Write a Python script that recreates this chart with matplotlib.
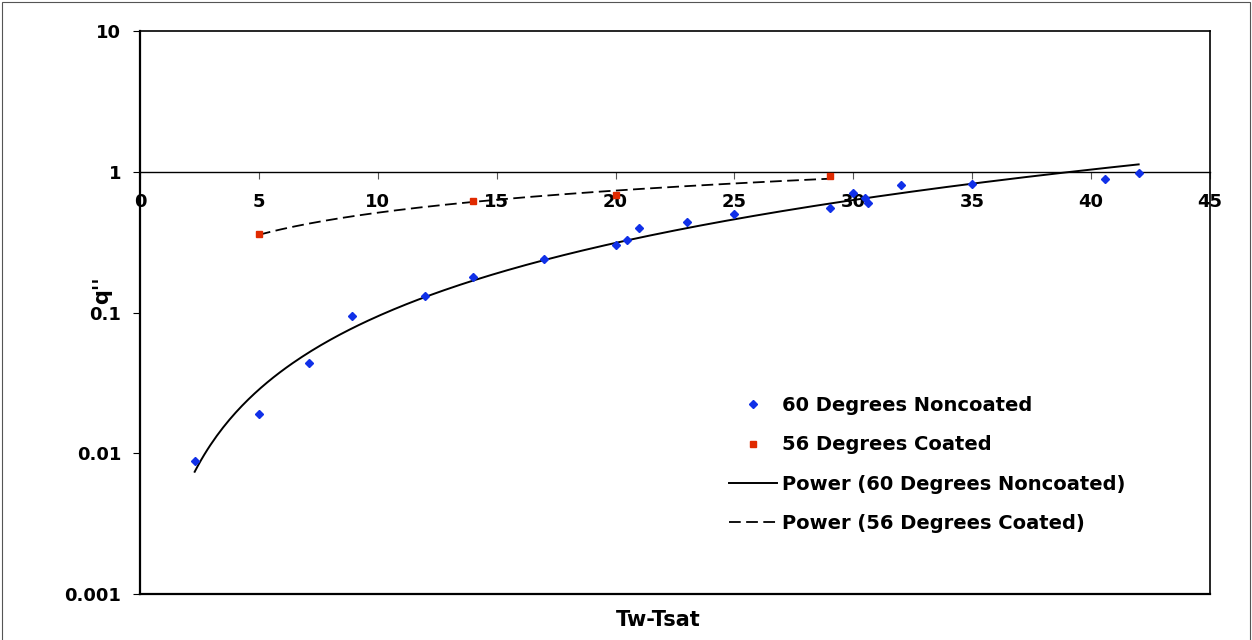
import numpy as np
import matplotlib
matplotlib.use("Agg")
import matplotlib.pyplot as plt
from matplotlib.patches import Rectangle

# ---- data ----
x_noncoated = [2.3, 5.0, 7.1, 8.9, 12.0, 14.0, 17.0, 20.0, 20.5, 21.0, 23.0, 25.0,
               29.0, 30.0, 30.5, 30.6, 32.0, 35.0, 40.6, 42.0]
y_noncoated = [0.0088, 0.019, 0.044, 0.095, 0.13, 0.18, 0.24, 0.30, 0.33, 0.40, 0.44, 0.50,
               0.55, 0.71, 0.65, 0.60, 0.80, 0.82, 0.89, 0.98]
x_coated = [5.0, 14.0, 20.0, 29.0]
y_coated = [0.36, 0.62, 0.68, 0.94]

x_ticks = [0, 5, 10, 15, 20, 25, 30, 35, 40, 45]
y_ticks = [0.001, 0.01, 0.1, 1, 10]
y_tick_labels = ["0.001", "0.01", "0.1", "1", "10"]

label_nc = "60 Degrees Noncoated"
label_c = "56 Degrees Coated"
label_pnc = "Power (60 Degrees Noncoated)"
label_pc = "Power (56 Degrees Coated)"


def power_fit(x, y):
    b, loga = np.polyfit(np.log(x), np.log(y), 1)
    xs = np.linspace(min(x), max(x), 300)
    return xs, np.exp(loga) * xs ** b


plt.rcParams['font.family'] = ['DejaVu Sans']
plt.rcParams['font.weight'] = 'bold'

fig = plt.figure(figsize=(12.52, 6.4), dpi=100)
W, H = 1252, 640
L, R, T, B = 140, 1210, 31, 594
ax = fig.add_axes([L / W, 1 - B / H, (R - L) / W, (B - T) / H])

# outer chart border
fig.patches.append(Rectangle((1.5 / W, -0.02), 1 - 3.5 / W, 1.02 - 1.5 / H,
                             transform=fig.transFigure, fill=False,
                             edgecolor='#555555', linewidth=0.8))

ax.set_yscale('log')
ax.set_xlim(0, 45)
ax.set_ylim(0.001, 10)

blue = '#1030e8'
red = '#e02a00'

xs, ys = power_fit(x_noncoated, y_noncoated)
ax.plot(xs, ys, color='black', lw=1.4, label=label_pnc, zorder=3)
xs2, ys2 = power_fit(x_coated, y_coated)
ax.plot(xs2, ys2, color='black', lw=1.3, ls=(0, (6.5, 3)), label=label_pc, zorder=3)

ax.plot(x_noncoated, y_noncoated, ls='none', marker='D', ms=4.0, color=blue,
        mec=blue, label=label_nc, zorder=4)
ax.plot(x_coated, y_coated, ls='none', marker='s', ms=4.8, color=red,
        mec=red, label=label_c, zorder=4)

# plot-area border
for s in ['left', 'bottom']:
    ax.spines[s].set_linewidth(1.6)
for s in ['top', 'right']:
    ax.spines[s].set_linewidth(1.2)

# y axis
ax.set_yticks(y_ticks)
ax.set_yticklabels(y_tick_labels)
ax.yaxis.set_minor_locator(matplotlib.ticker.NullLocator())
ax.tick_params(axis='y', direction='out', length=5, width=0.8, pad=8.5,
               labelsize=13)

# main x axis hidden (border only)
ax.set_xticks([])

# x axis crossing at y = 1
ypos = (np.log10(1) - np.log10(0.001)) / (np.log10(10) - np.log10(0.001))
sec = ax.secondary_xaxis(ypos)
sec.set_alignment('bottom')
sec.set_xticks(x_ticks)
sec.tick_params(axis='x', direction='out', length=5, width=0.8, pad=10,
                labelsize=13, color='#555555')
sec.spines['bottom'].set_linewidth(1.0)

fig.text(102 / W, 1 - 290 / H, "q''", fontsize=15, fontweight='bold',
         ha='center', va='center', rotation=90)
fig.text(658 / W, 1 - 620 / H, "Tw-Tsat", fontsize=15, fontweight='bold',
         ha='center', va='center')

# legend order
handles, labels = ax.get_legend_handles_labels()
order = [labels.index(l) for l in [label_nc, label_c, label_pnc, label_pc]]
leg = ax.legend([handles[i] for i in order], [labels[i] for i in order],
                loc='upper left', bbox_to_anchor=((729 - L) / (R - L), (B - 396) / (B - T)),
                frameon=False, borderpad=0, borderaxespad=0, handlelength=2.45,
                handletextpad=0.3, labelspacing=1.05,
                prop={'size': 14, 'weight': 'bold'})

fig.savefig("out.png", dpi=100)
